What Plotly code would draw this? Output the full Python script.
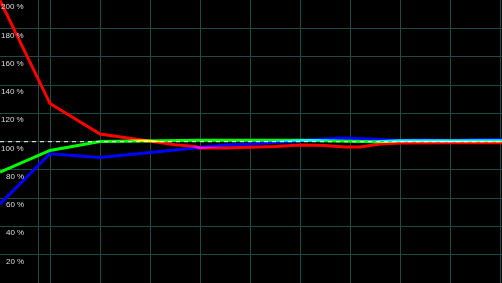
import plotly.graph_objects as go

# x positions in grid units (one vertical grid cell = 1)
red_x = [0, 1, 2, 3, 3.5, 3.9, 4, 4.5, 5, 5.5, 6, 6.5, 6.9, 7.2, 7.6, 8, 9, 10.04]
red_y = [200, 127, 105.5, 100.3, 97.8, 96.7, 95.6, 95.5, 96.0, 96.6, 97.7, 97.3, 96.3, 96.3, 98.4, 99.1, 99.3, 99.3]

blue_x = [0, 1, 2, 3, 4, 4.5, 5, 6, 6.8, 7.4, 8, 8.5, 9, 9.5, 10.04]
blue_y = [56, 91.5, 88.8, 92.3, 96.0, 97.7, 98.4, 100.6, 102.6, 102.0, 100.8, 101.3, 100.6, 101.4, 101.5]

green_x = [0, 1, 2, 3, 4, 5, 6, 7, 7.5, 8, 9, 10.04]
green_y = [78.5, 93.8, 100.2, 100.7, 101.0, 101.0, 101.0, 100.4, 100.0, 100.6, 100.6, 100.6]

y_tick_vals = [200, 180, 160, 140, 120, 100, 80, 60, 40, 20]
y_tick_labels = ["200 %", "180 %", "160 %", "140 %", "120 %", "100 %", "80 %", "60 %", "40 %", "20 %"]
x_grid_vals = [0, 0.76, 1, 2, 3, 4, 5, 6, 7, 8, 9, 10]

grid_col = "#1f4a45"

fig = go.Figure()
for xs, ys, col in [(green_x, green_y, "#00ff00"), (blue_x, blue_y, "#0000ff"), (red_x, red_y, "#ff0000")]:
    fig.add_trace(go.Scatter(x=xs, y=ys, mode="lines", line=dict(color=col, width=3),
                             hoverinfo="skip", showlegend=False))

fig.add_shape(type="line", xref="paper", x0=0, x1=1, yref="y", y0=100, y1=100,
              line=dict(color="white", width=1, dash="4px,4px"), layer="above")

for v, t in zip(y_tick_vals, y_tick_labels):
    fig.add_annotation(xref="paper", x=26 / 502, xanchor="right", yref="y", y=v,
                       yanchor="top", yshift=0, text=t, showarrow=False,
                       font=dict(family="Liberation Sans, Arial", size=8, color="#dcdcdc"))

fig.update_layout(
    width=502, height=283, margin=dict(l=0, r=0, t=0, b=0),
    paper_bgcolor="black", plot_bgcolor="black",
    xaxis=dict(range=[0, 10.04], tickvals=x_grid_vals, showticklabels=False,
               showgrid=True, gridcolor=grid_col, gridwidth=1, zeroline=False,
               showline=False, ticks=""),
    yaxis=dict(range=[0, 200.3], tickvals=[0] + y_tick_vals, showticklabels=False,
               showgrid=True, gridcolor=grid_col, gridwidth=1, zeroline=False,
               showline=False, ticks=""),
)

post = """
var gd = document.getElementById('{plot_id}');
gd.querySelectorAll('.scatterlayer .trace').forEach(function(t){ t.style.mixBlendMode = 'screen'; });
"""
fig.write_html("out.html", post_script=post)
